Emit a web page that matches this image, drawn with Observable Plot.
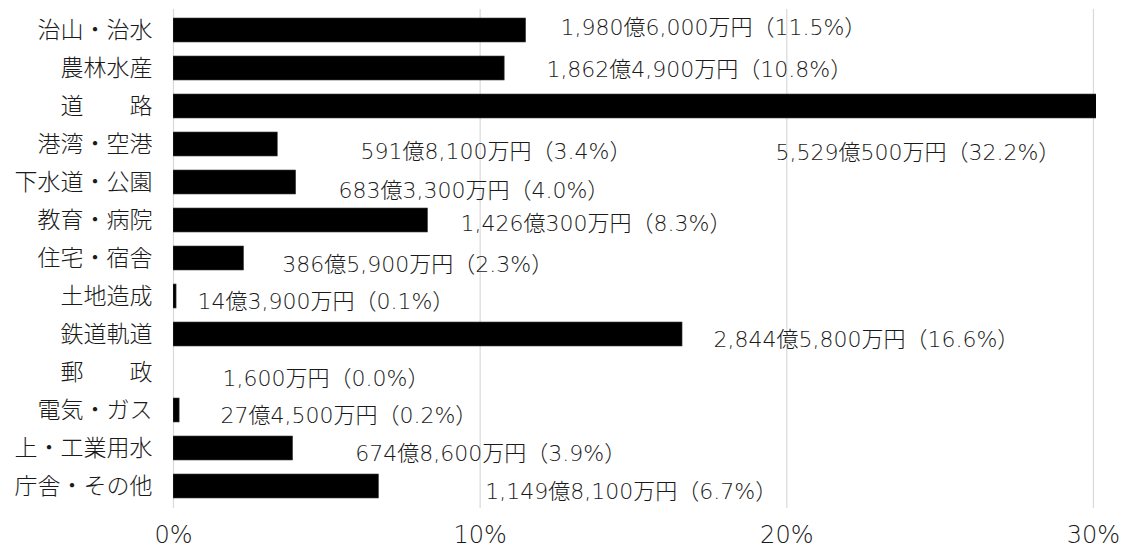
<!DOCTYPE html>
<html>
<head>
<meta charset="utf-8">
<script src="https://cdn.jsdelivr.net/npm/d3@7"></script>
<script src="https://cdn.jsdelivr.net/npm/@observablehq/plot@0.6"></script>
<style>
  html, body { margin: 0; padding: 0; background: #fff; }
  #chart svg { display: block; }
</style>
</head>
<body>
<div id="chart"></div>
<script>
// ---- data ----
const categories = ["治山・治水","農林水産","道　　路","港湾・空港","下水道・公園","教育・病院","住宅・宿舎","土地造成","鉄道軌道","郵　　政","電気・ガス","上・工業用水","庁舎・その他"];
const shares = [11.5, 10.8, 32.2, 3.4, 4.0, 8.3, 2.3, 0.1, 16.6, 0.0, 0.2, 3.9, 6.7];
const amounts = ["1,980億6,000万円","1,862億4,900万円","5,529億500万円","591億8,100万円","683億3,300万円","1,426億300万円","386億5,900万円","14億3,900万円","2,844億5,800万円","1,600万円","27億4,500万円","674億8,600万円","1,149億8,100万円"];
const xTicks = [0, 10, 20, 30];
// label placement (start of label in % units, vertical nudge in px)
const labelAt = [12.62, 12.16, 19.63, 6.10, 5.38, 9.36, 3.55, 0.78, 17.61, 1.60, 1.53, 5.93, 10.17];
const labelDy = [-3, 1, 46, 7, 8, 3, 6.5, 5, 5.6, 6.4, 5.5, 5.4, 5.3];

const rows = categories.map((c, i) => ({
  cat: c, share: shares[i], amount: amounts[i], at: labelAt[i], dy: labelDy[i]
}));

const valueFont = "'DejaVu Sans', 'Noto Sans CJK JP', sans-serif";
const catFont = "'Noto Sans CJK JP', sans-serif";

const chart = Plot.plot({
  width: 1124,
  height: 549,
  marginLeft: 173,
  marginRight: 28,
  marginTop: 9,
  marginBottom: 41,
  style: { fontFamily: catFont, color: "#222", background: "#fff" },
  x: { domain: [0, 30.1], ticks: xTicks },
  y: { domain: categories, paddingInner: 0.362, paddingOuter: 0.181 },
  marks: [
    Plot.gridX(xTicks, { stroke: "#d9d9d9", strokeOpacity: 1, strokeWidth: 1.2 }),
    Plot.barX(rows, { x1: 0, x2: "share", y: "cat", fill: "#000", stroke: "#404040", strokeWidth: 0.6, clip: true }),
    ...rows.map(d => Plot.text([d], {
      x: "at", y: "cat",
      text: r => `${r.amount}（${r.share.toFixed(1)}%）`,
      textAnchor: "start", dy: d.dy,
      fontSize: 22, fontFamily: valueFont, fontWeight: 300, fill: "#1a1a1a"
    })),
    Plot.axisY({ tickSize: 0, tickPadding: 21, fontSize: 23, fontFamily: catFont, fontWeight: 300, fill: "#1a1a1a", label: null }),
    Plot.axisX({ ticks: xTicks, tickSize: 0, tickPadding: 17, fontSize: 24, fontFamily: "'DejaVu Sans', sans-serif", fontWeight: 300, fill: "#1a1a1a", tickFormat: d => d + "%", label: null })
  ]
});
document.getElementById("chart").appendChild(chart);
</script>
</body>
</html>
